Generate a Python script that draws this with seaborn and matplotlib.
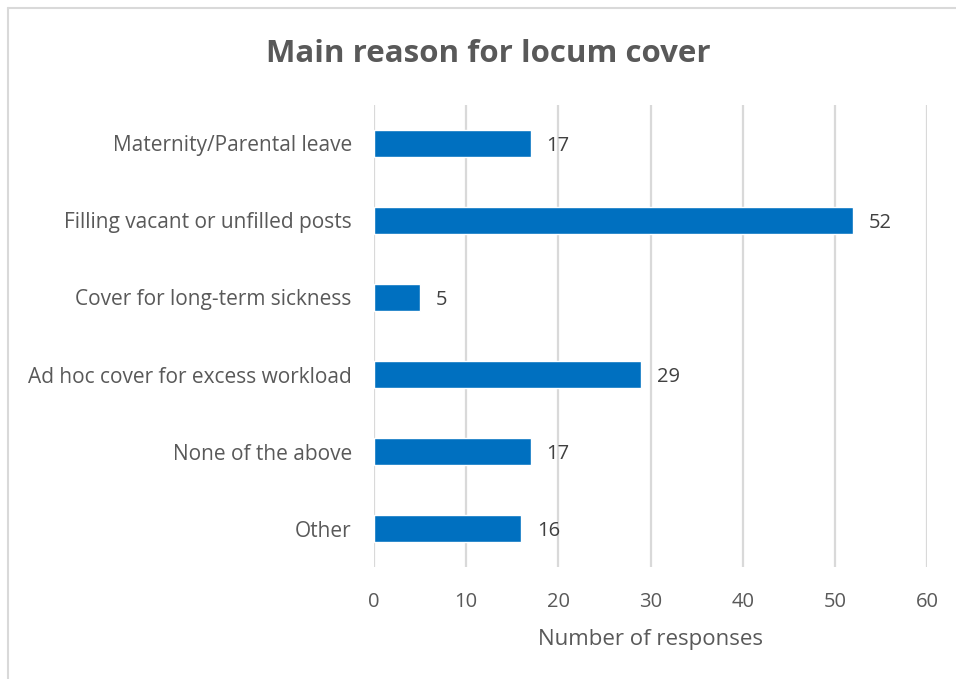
import matplotlib
matplotlib.use("Agg")
import matplotlib.pyplot as plt
import seaborn as sns
import pandas as pd
from matplotlib.lines import Line2D

categories = [
    "Maternity/Parental leave",
    "Filling vacant or unfilled posts",
    "Cover for long-term sickness",
    "Ad hoc cover for excess workload",
    "None of the above",
    "Other",
]
responses = [17, 52, 5, 29, 17, 16]
x_ticks = [0, 10, 20, 30, 40, 50, 60]

df = pd.DataFrame({"reason": categories, "count": responses})

sns.set_theme(style="white")
plt.rcParams["font.family"] = ["Open Sans", "DejaVu Sans"]

fig = plt.figure(figsize=(9.56, 6.79), dpi=100)
ax = fig.add_axes([0.3912, 0.1649, 0.5785, 0.6805])

sns.barplot(data=df, x="count", y="reason", color="#0070C0", width=0.35,
            saturation=1, ax=ax, zorder=3)

ax.set_xlim(0, 60)
ax.set_xticks(x_ticks)
ax.xaxis.grid(True, color="#d9d9d9", linewidth=1.6, zorder=0)
ax.set_axisbelow(True)
for s in ax.spines.values():
    s.set_visible(False)
ax.tick_params(axis="both", length=0, colors="#595959")
ax.tick_params(axis="x", pad=18, labelsize=14.5)
ax.tick_params(axis="y", pad=16, labelsize=15)
ax.set_ylabel("")
ax.set_xlabel("Number of responses", fontsize=16, color="#595959", labelpad=12)

for cont in ax.containers:
    labels = ax.bar_label(cont, labels=[str(v) for v in responses], padding=11,
                          fontsize=14.5, color="#404040")
    for t in labels:
        t.set_y(-1.5)

fig.text(0.511, 0.921, "Main reason for locum cover", ha="center", va="center",
         fontsize=22.5, fontweight="bold", color="#595959")

# chart-area frame (top and left edges)
fig.add_artist(Line2D([0.0085, 1.0], [0.988, 0.988], transform=fig.transFigure,
                      color="#d9d9d9", linewidth=1.5))
fig.add_artist(Line2D([0.0085, 0.0085], [0.0, 0.988], transform=fig.transFigure,
                      color="#d9d9d9", linewidth=1.5))

fig.savefig("out.png", dpi=100)
